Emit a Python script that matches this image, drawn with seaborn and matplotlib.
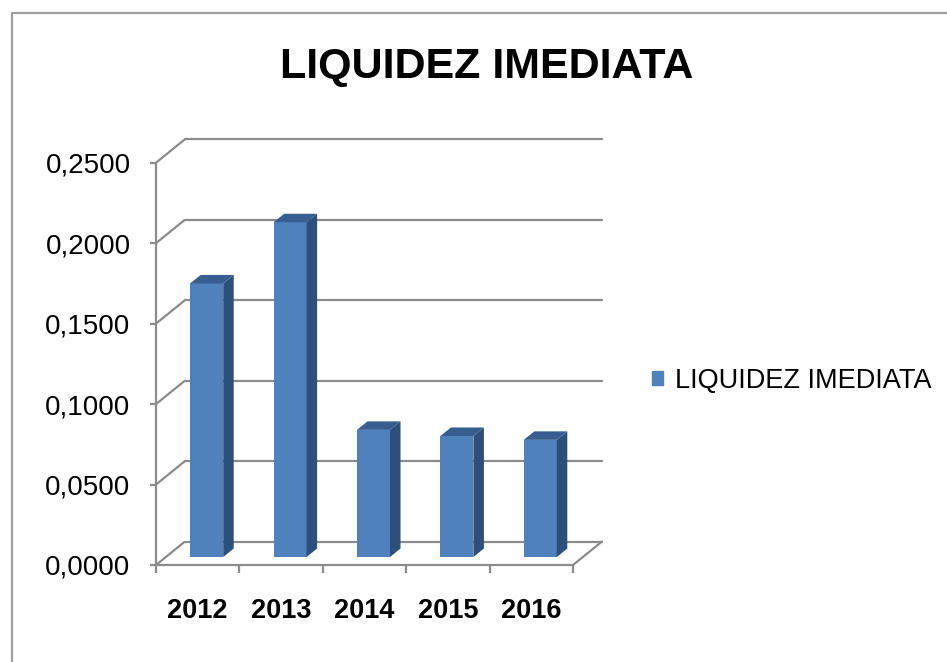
import matplotlib
matplotlib.use("Agg")
import matplotlib.pyplot as plt
from matplotlib.lines import Line2D
from matplotlib.patches import Polygon, Patch
from matplotlib.ticker import FuncFormatter, FixedLocator
import seaborn as sns
import pandas as pd

# data
years = ["2012", "2013", "2014", "2015", "2016"]
liquidez = [0.1700, 0.2080, 0.0790, 0.0752, 0.0728]
series_name = "LIQUIDEZ IMEDIATA"
y_ticks = [0.0, 0.05, 0.10, 0.15, 0.20, 0.25]

sns.set_style("white")
plt.rcParams["font.family"] = ["Liberation Sans", "DejaVu Sans"]
plt.rcParams["text.color"] = "black"
plt.rcParams["xtick.labelcolor"] = "black"
plt.rcParams["ytick.labelcolor"] = "black"

front_col = "#4F81BD"
side_col = "#2D4F7C"
top_col = "#385E91"
line_col = "#8C8C8C"

fig = plt.figure(figsize=(9.47, 6.62), dpi=100)
ax = fig.add_axes([156 / 947, 97 / 662, 417 / 947, 402.3 / 662])

df = pd.DataFrame({"year": years, "value": liquidez})
sns.barplot(data=df, x="year", y="value", color=front_col, saturation=1,
            width=0.396, linewidth=0, edgecolor="none", ax=ax, zorder=3)
ax.set_xlim(-0.5, 4.5)
ax.set_ylim(0, 0.25)

# pixel -> data conversion for the fake 3D depth
p0 = ax.transData.transform((0, 0))
p1 = ax.transData.transform((1, 1))
sx, sy = p1[0] - p0[0], p1[1] - p0[1]


def px(dx, dy):
    return dx / sx, dy / sy


wall = px(29, 23.5)
face = px(9, 8)
depth = px(10.5, 8.5)

# back wall gridlines + side wall diagonals
for t in y_ticks:
    ax.plot([-0.5, -0.5 + wall[0]], [t, t + wall[1]], color=line_col, lw=1.6,
            zorder=1, clip_on=False, solid_capstyle="butt")
    ax.plot([-0.5 + wall[0], 4.5 + wall[0]], [t + wall[1]] * 2, color=line_col,
            lw=1.6, zorder=1, clip_on=False)
ax.plot([4.5, 4.5 + wall[0]], [0, wall[1]], color=line_col, lw=1.6,
        zorder=1, clip_on=False)

# give the bars depth
for bar in ax.patches:
    x0 = bar.get_x() + face[0]
    w = bar.get_width()
    h = bar.get_height()
    y0 = face[1]
    bar.set_x(x0)
    bar.set_y(y0)
    bar.set_clip_on(False)
    x1, y1 = x0 + w, y0 + h
    ax.add_patch(Polygon([(x1, y0), (x1 + depth[0], y0 + depth[1]),
                          (x1 + depth[0], y1 + depth[1]), (x1, y1)],
                         closed=True, facecolor=side_col, edgecolor="none",
                         zorder=3, clip_on=False))
    ax.add_patch(Polygon([(x0, y1), (x1, y1), (x1 + depth[0], y1 + depth[1]),
                          (x0 + depth[0], y1 + depth[1])],
                         closed=True, facecolor=top_col, edgecolor="none",
                         zorder=3, clip_on=False))

# axes styling
for s in ["top", "right"]:
    ax.spines[s].set_visible(False)
for s in ["left", "bottom"]:
    ax.spines[s].set_color(line_col)
    ax.spines[s].set_linewidth(1.6)
ax.set_xlabel("")
ax.set_ylabel("")
ax.yaxis.set_major_locator(FixedLocator(y_ticks))
ax.yaxis.set_major_formatter(FuncFormatter(lambda v, pos: f"{v:.4f}".replace(".", ",")))
ax.xaxis.set_minor_locator(FixedLocator([i - 0.5 for i in range(len(years) + 1)]))
ax.tick_params(axis="y", which="major", direction="out", length=4.3, width=1.6,
               color=line_col, labelsize=20, pad=14, left=True, labelcolor="black")
ax.tick_params(axis="x", which="major", length=0, labelsize=19.5, pad=24,
               labelcolor="black")
ax.tick_params(axis="x", which="minor", direction="out", length=5.8, width=1.6,
               color=line_col, bottom=True)
for lab in ax.get_xticklabels():
    lab.set_fontweight("bold")

fig.text(487 / 947, 1 - 78 / 662, series_name, ha="center", va="baseline",
         fontsize=31, fontweight="bold", color="black")

fig.legend(handles=[Patch(color=front_col, label=series_name)], loc="center left",
           bbox_to_anchor=(652 / 947, 1 - 381 / 662), frameon=False, fontsize=19.5,
           handlelength=0.42, handleheight=0.42, handletextpad=0.42,
           borderpad=0, borderaxespad=0, labelcolor="black")

# chart area border (only top and left visible in the reference crop)
fig.add_artist(Line2D([12 / 947, 1], [1 - 13 / 662] * 2, transform=fig.transFigure,
                      color="#A0A0A0", lw=1.6))
fig.add_artist(Line2D([12 / 947] * 2, [0, 1 - 13 / 662], transform=fig.transFigure,
                      color="#A0A0A0", lw=1.6))

fig.savefig("out.png", dpi=100)
